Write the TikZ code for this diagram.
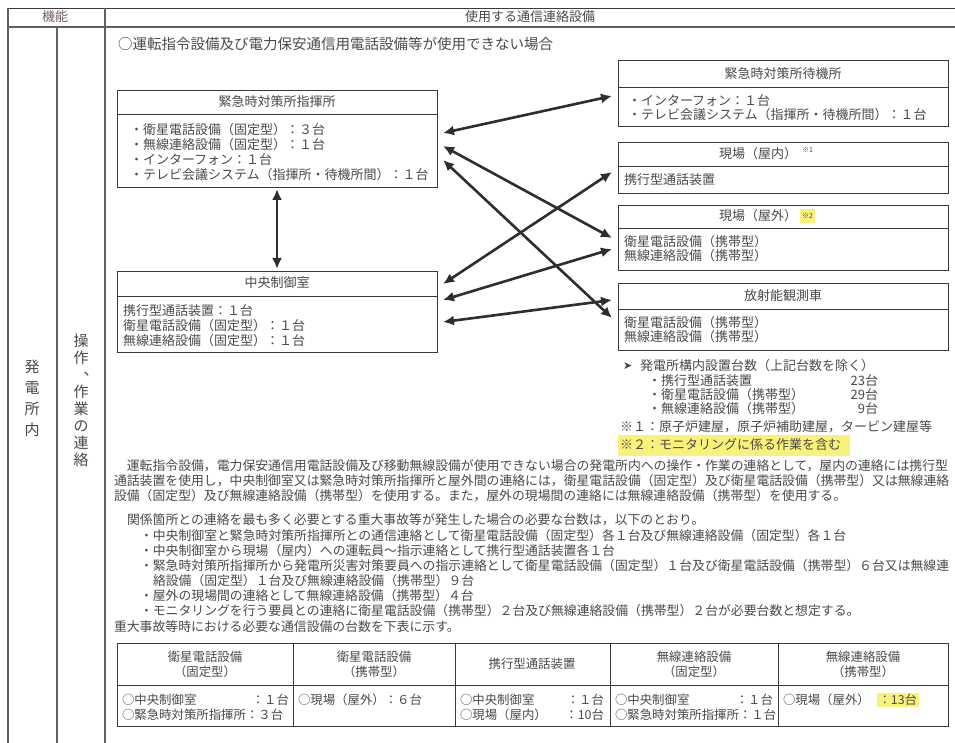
\documentclass[tikz,border=0pt]{standalone}
\usepackage{fontspec}
\setmainfont{Noto Sans CJK JP}
\newfontfamily\dejavu{DejaVu Sans}
\usetikzlibrary{arrows.meta}
\definecolor{txt}{HTML}{4A4A4A}
\definecolor{ln}{HTML}{3A3A3A}
\definecolor{arw}{HTML}{2E2E2E}
\definecolor{hl}{HTML}{F8F27A}
\definecolor{hdr}{HTML}{7A5C6C}
\newcommand\tx{\fontsize{13}{15}\selectfont}
\newcommand\px{\fontsize{12.85}{15}\selectfont}
\newcommand\tb{\fontsize{12.4}{15}\selectfont}
\newcommand\sm{\fontsize{7}{8}\selectfont}
\begin{document}
\begin{tikzpicture}[x=1pt,y=-1pt,
  every node/.style={inner sep=0pt, outer sep=0pt, text=txt, font=\tx},
  box/.style={draw=ln, line width=0.9pt},
  L/.style={anchor=west},
  R/.style={anchor=east},
  P/.style={anchor=west, font=\px},
  T/.style={font=\tb},
  grid/.style={draw=ln, line width=0.8pt},
  gridthick/.style={draw=ln!80, line width=1.6pt},
  dbl/.style={draw=arw, line width=2.6pt, {Latex[length=11pt,width=10pt]}-{Latex[length=11pt,width=10pt]}},
]
\useasboundingbox (0,0) rectangle (955,743);
\fill[white] (0,0) rectangle (955,743);

% outer table
\draw[grid] (8,8) -- (955,8);
\draw[gridthick] (8,27) -- (955,27);
\draw[gridthick] (8,8) -- (8,743);
\draw[gridthick] (105,8) -- (105,743);
\draw[gridthick] (57,27) -- (57,743);
\node[text=hdr] (kino) at (55,17) {機能};
\node (shiyo) at (530,17) {使用する通信連絡設備};
\node[font=\fontsize{15}{21}\selectfont, align=center] (hatsu) at (32,398) {発\\電\\所\\内};
\node[font=\fontsize{15}{17}\selectfont, align=center] (sousa) at (81,400) {操\\作\\\makebox[15pt][l]{\hspace{10pt}\raisebox{5pt}{、}}\\作\\業\\の\\連\\絡};

\node[L, font=\fontsize{14.5}{16}\selectfont] (cond) at (118,44) {○運転指令設備及び電力保安通信用電話設備等が使用できない場合};

% left boxes
\node[box, minimum width=320pt, minimum height=97pt] (hq) at (277,138.5) {};
\draw[grid] (hq.west |- 0,114) -- (hq.east |- 0,114);
\node (hqt) at (277,102) {緊急時対策所指揮所};
\node[L] (hq1) at (130,130) {・衛星電話設備（固定型）：３台};
\node[L] (hq2) at (130,145) {・無線連絡設備（固定型）：１台};
\node[L] (hq3) at (130,160) {・インターフォン：１台};
\node[L] (hq4) at (130,175) {・テレビ会議システム（指揮所・待機所間）：１台};

\node[box, minimum width=320pt, minimum height=81pt] (cc) at (277,311.5) {};
\draw[grid] (cc.west |- 0,296) -- (cc.east |- 0,296);
\node (cct) at (277,283) {中央制御室};
\node[L] (cc1) at (123,311) {携行型通話装置：１台};
\node[L] (cc2) at (123,326) {衛星電話設備（固定型）：１台};
\node[L] (cc3) at (123,341) {無線連絡設備（固定型）：１台};

% right boxes
\node[box, minimum width=330pt, minimum height=66pt] (wt) at (783,93) {};
\draw[grid] (wt.west |- 0,87) -- (wt.east |- 0,87);
\node (wtt) at (783,74) {緊急時対策所待機所};
\node[L] (wt1) at (628,101) {・インターフォン：１台};
\node[L] (wt2) at (628,115) {・テレビ会議システム（指揮所・待機所間）：１台};

\node[box, minimum width=330pt, minimum height=51pt] (in) at (783,167.5) {};
\draw[grid] (in.west |- 0,166) -- (in.east |- 0,166);
\node[R] (int) at (797,154) {現場（屋内）};
\node[L, font=\sm] (ins) at (802,150) {※1};
\node[L] (in1) at (624,180) {携行型通話装置};

\node[box, minimum width=330pt, minimum height=65pt] (out) at (783,237.5) {};
\draw[grid] (out.west |- 0,228) -- (out.east |- 0,228);
\node[R] (outt) at (797,216) {現場（屋外）};
\node[L, font=\sm, fill=hl, inner sep=2pt, minimum height=14pt] (outs) at (800,216) {※2};
\node[L] (out1) at (624,242) {衛星電話設備（携帯型）};
\node[L] (out2) at (624,256) {無線連絡設備（携帯型）};

\node[box, minimum width=330pt, minimum height=67pt] (rad) at (783,316.5) {};
\draw[grid] (rad.west |- 0,309) -- (rad.east |- 0,309);
\node (radt) at (783,296) {放射能観測車};
\node[L] (rad1) at (624,323) {衛星電話設備（携帯型）};
\node[L] (rad2) at (624,337) {無線連絡設備（携帯型）};

% arrows
\draw[dbl] ([shift={(0,2)}]hq.south) -- ([shift={(0,-2)}]cc.north);
\draw[dbl] ([shift={(6,-5.5)}]hq.east) -- ([shift={(-6,3)}]wt.west);
\draw[dbl] ([shift={(6,7.5)}]hq.east) -- ([shift={(-6,0.5)}]out.west);
\draw[dbl] ([shift={(6,21.5)}]hq.east) -- ([shift={(-6,1.5)}]rad.west);
\draw[dbl] ([shift={(6,-27.5)}]cc.east) -- ([shift={(-6,4.5)}]in.west);
\draw[dbl] ([shift={(6,-11.5)}]cc.east) -- ([shift={(-6,11.5)}]out.west);
\draw[dbl] ([shift={(6,10.5)}]cc.east) -- ([shift={(-6,-16.5)}]rad.west);

% notes
\node[L, font=\dejavu\fontsize{11}{13}\selectfont] (nb) at (623,366) {➤};
\node[L] (n0) at (640,366) {発電所構内設置台数（上記台数を除く）};
\node[L] (n1) at (648,381) {・携行型通話装置};
\node[R] (n1v) at (878,381) {23台};
\node[L] (n2) at (648,395) {・衛星電話設備（携帯型）};
\node[R] (n2v) at (878,395) {29台};
\node[L] (n3) at (648,409) {・無線連絡設備（携帯型）};
\node[R] (n3v) at (878,409) {9台};
\node[L] (k1) at (620,427) {※１：原子炉建屋，原子炉補助建屋，タービン建屋等};
\fill[hl] (618,435) rectangle (850,456);
\node[L] (k2) at (620,445) {※２：モニタリングに係る作業を含む};

% paragraph
\node[P] (p1) at (114,466) {　運転指令設備，電力保安通信用電話設備及び移動無線設備が使用できない場合の発電所内への操作・作業の連絡として，屋内の連絡には携行型};
\node[P] (p2) at (114,481) {通話装置を使用し，中央制御室又は緊急時対策所指揮所と屋外間の連絡には，衛星電話設備（固定型）及び衛星電話設備（携帯型）又は無線連絡};
\node[P] (p3) at (114,496) {設備（固定型）及び無線連絡設備（携帯型）を使用する。また，屋外の現場間の連絡には無線連絡設備（携帯型）を使用する。};
\node[P] (p4) at (127,520) {関係箇所との連絡を最も多く必要とする重大事故等が発生した場合の必要な台数は，以下のとおり。};
\node[P] (p5) at (140,536) {・中央制御室と緊急時対策所指揮所との通信連絡として衛星電話設備（固定型）各１台及び無線連絡設備（固定型）各１台};
\node[P] (p6) at (140,551) {・中央制御室から現場（屋内）への運転員～指示連絡として携行型通話装置各１台};
\node[P] (p7) at (140,566) {・緊急時対策所指揮所から発電所災害対策要員への指示連絡として衛星電話設備（固定型）１台及び衛星電話設備（携帯型）６台又は無線連};
\node[P] (p8) at (153,581) {絡設備（固定型）１台及び無線連絡設備（携帯型）９台};
\node[P] (p9) at (140,596) {・屋外の現場間の連絡として無線連絡設備（携帯型）４台};
\node[P] (p10) at (140,611) {・モニタリングを行う要員との連絡に衛星電話設備（携帯型）２台及び無線連絡設備（携帯型）２台が必要台数と想定する。};
\node[P] (p11) at (114,627) {重大事故等時における必要な通信設備の台数を下表に示す。};

% bottom table
\draw[grid] (117,643) rectangle (948,726);
\draw[grid] (117,685) -- (948,685);
\foreach \cx in {293,455,610,778} \draw[grid] (\cx,643) -- (\cx,726);
\node[align=center, font=\fontsize{12.4}{15}\selectfont] (h1) at (205,664) {衛星電話設備\\（固定型）};
\node[align=center, font=\fontsize{12.4}{15}\selectfont] (h2) at (374,664) {衛星電話設備\\（携帯型）};
\node[T] (h3) at (532,664) {携行型通話装置};
\node[align=center, font=\fontsize{12.4}{15}\selectfont] (h4) at (694,664) {無線連絡設備\\（固定型）};
\node[align=center, font=\fontsize{12.4}{15}\selectfont] (h5) at (863,664) {無線連絡設備\\（携帯型）};

\node[L, T] (c1a) at (122,700) {○中央制御室};
\node[R, T] (c1b) at (289,700) {：１台};
\node[L, T] (c1c) at (122,715) {○緊急時対策所指揮所：３台};
\node[L, T] (c2a) at (298,700) {○現場（屋外）：６台};
\node[L, T] (c3a) at (460,700) {○中央制御室};
\node[R, T] (c3b) at (604,700) {：１台};
\node[L, T] (c3c) at (460,715) {○現場（屋内）};
\node[R, T] (c3d) at (604,715) {：10台};
\node[L, T] (c4a) at (615,700) {○中央制御室};
\node[R, T] (c4b) at (773,700) {：１台};
\node[L, T] (c4c) at (615,715) {○緊急時対策所指揮所：１台};
\node[L, T] (c5a) at (783,700) {○現場（屋外）};
\node[L, T, fill=hl, inner sep=1.5pt] (c5b) at (877,700) {：13台};
\end{tikzpicture}
\end{document}
